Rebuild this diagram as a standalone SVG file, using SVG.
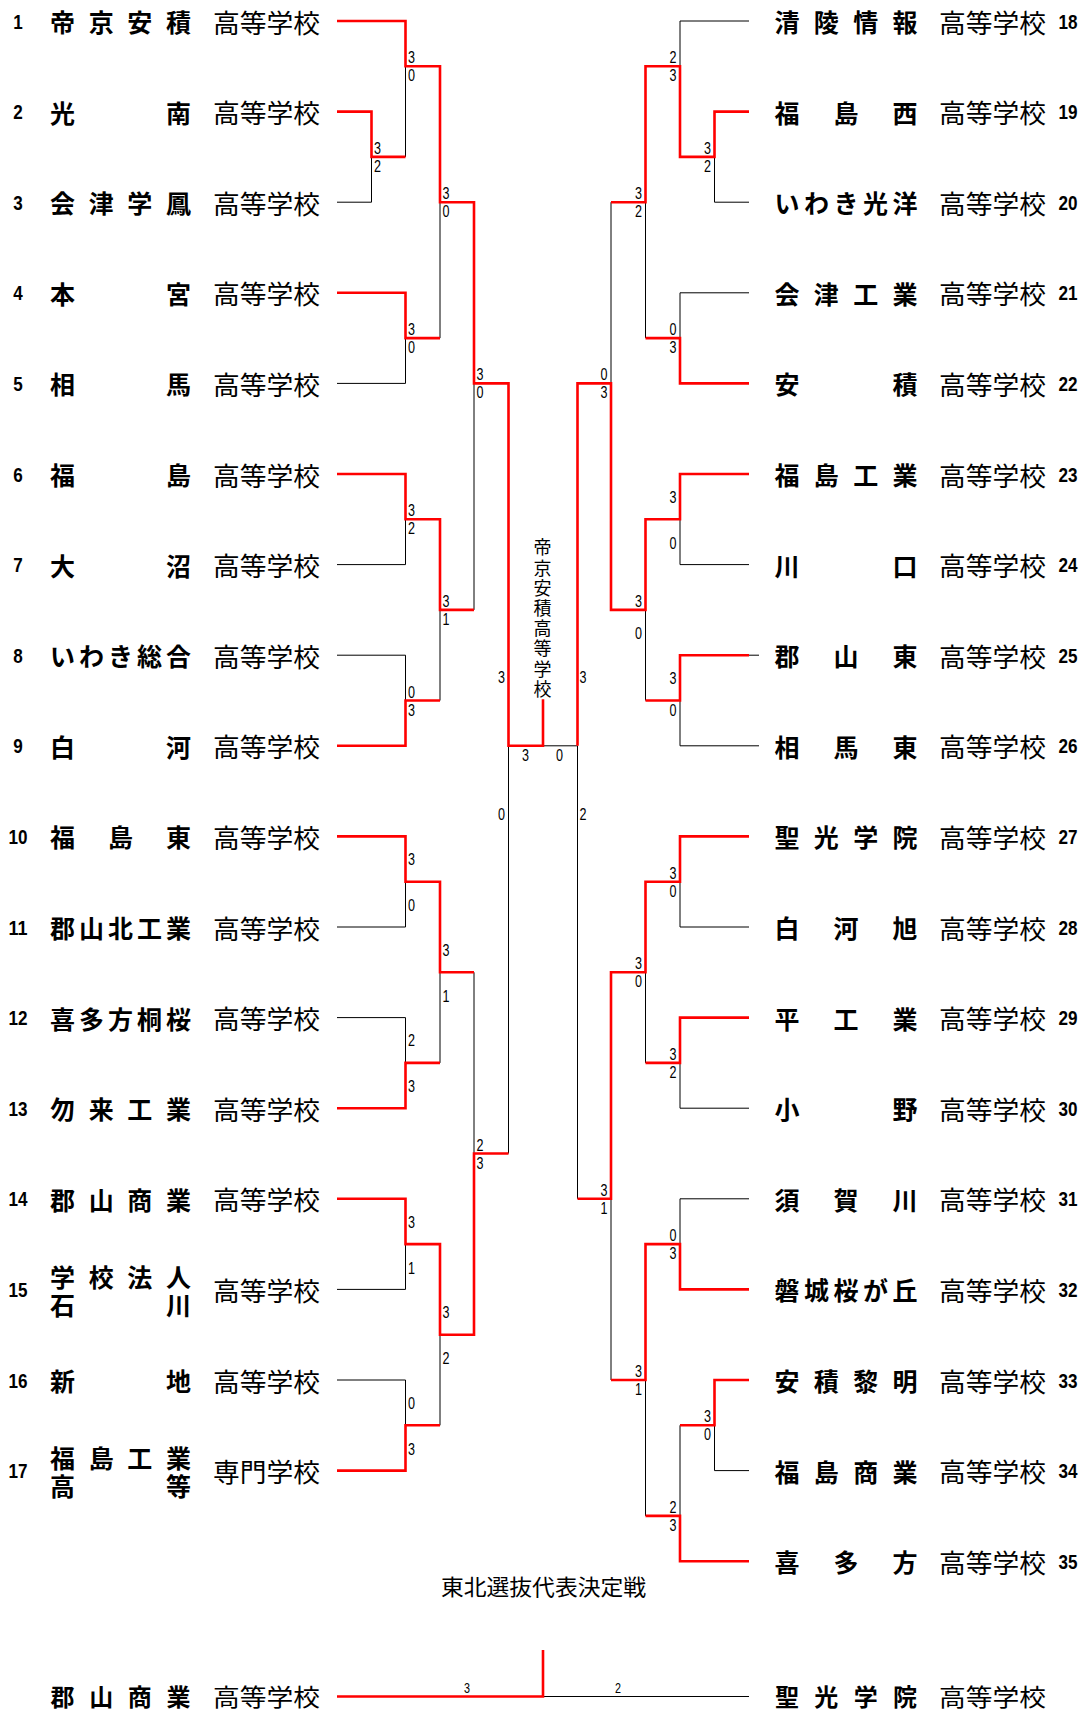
<svg xmlns="http://www.w3.org/2000/svg" width="1086" height="1711" viewBox="0 0 1086 1711">
<style>
.k{fill:none;stroke:#000;stroke-width:1}
.r{fill:none;stroke:#f00;stroke-width:2.6}
.num{font-family:"Liberation Sans",Arial,sans-serif;font-weight:bold;font-size:21px;text-anchor:middle;fill:#000}
.nm{font-family:"Noto Sans CJK JP","Noto Sans CJK SC",sans-serif;font-weight:bold;font-size:25px;text-anchor:middle;dominant-baseline:central;fill:#000}
.hs{font-family:"Noto Sans CJK JP","Noto Sans CJK SC",sans-serif;font-size:26px;dominant-baseline:central;fill:#000}
.bt{font-size:24px}
.sc{font-family:"Liberation Sans",Arial,sans-serif;font-size:17px;fill:#000}
.e{text-anchor:end}
.m{text-anchor:middle}
.sm{font-size:14px}
.vt{font-family:"Noto Sans CJK JP","Noto Sans CJK SC",sans-serif;font-size:18px;writing-mode:vertical-rl;letter-spacing:2.2px;fill:#000}
.ttl{font-family:"Noto Sans CJK JP","Noto Sans CJK SC",sans-serif;font-size:22px;text-anchor:middle;dominant-baseline:central;fill:#000}
</style>
<rect width="1086" height="1711" fill="#fff"/>

<g id="connectors">
<path class="k" d="M337,202.2H371.5V156.9 M405.5,66.3V156.9 M337,383.4H405.5V338.1 M440,202.2V338.1 M337,564.6H405.5V519.3 M337,655.2H405.5V700.5 M440,609.9V700.5 M474,383.4V609.9 M337,927H405.5V881.7 M337,1017.6H405.5V1062.9 M440,972.3V1062.9 M337,1289.4H405.5V1244.1 M337,1380H405.5V1425.3 M440,1334.7V1425.3 M474,972.3V1153.5 M508.5,745.8V1153.5 M543,745.8H577.5"/>
<path class="k" d="M749,21H680V66.3 M749,202.2H714.5V156.9 M749,292.8H680V338.1 M645.5,202.2V338.1 M611,202.2V383.4 M749,564.6H680V519.3 M759,655.2H749 M759,745.8H680V700.5 M645.5,609.9V700.5 M577.5,745.8V1198.8 M749,927H680V881.7 M749,1108.2H680V1062.9 M645.5,972.3V1062.9 M749,1198.8H680V1244.1 M611,1198.8V1380 M749,1470.6H714.5V1425.3 M680,1425.3V1515.9 M645.5,1380V1515.9 M543,1696.5H749"/>
<path class="r" d="M337,21H405.5V66.3H440V202.2H474V383.4H508.5V745.8H543V699.3"/>
<path class="r" d="M337,111.6H371.5V156.9H405.5"/>
<path class="r" d="M337,292.8H405.5V338.1H440"/>
<path class="r" d="M337,474H405.5V519.3H440V609.9H474"/>
<path class="r" d="M337,745.8H405.5V700.5H440"/>
<path class="r" d="M337,836.4H405.5V881.7H440V972.3H474"/>
<path class="r" d="M337,1108.2H405.5V1062.9H440"/>
<path class="r" d="M337,1198.8H405.5V1244.1H440V1334.7H474V1153.5H508.5"/>
<path class="r" d="M337,1470.6H405.5V1425.3H440"/>
<path class="r" d="M749,111.6H714.5V156.9H680V66.3H645.5V202.2H611"/>
<path class="r" d="M749,383.4H680V338.1H645.5"/>
<path class="r" d="M749,474H680V519.3H645.5V609.9H611V383.4H577.5V745.8"/>
<path class="r" d="M749,655.2H680V700.5H645.5"/>
<path class="r" d="M749,836.4H680V881.7H645.5V972.3H611V1198.8H577.5"/>
<path class="r" d="M749,1017.6H680V1062.9H645.5"/>
<path class="r" d="M749,1289.4H680V1244.1H645.5V1380H611"/>
<path class="r" d="M749,1380H714.5V1425.3H680"/>
<path class="r" d="M749,1561.2H680V1515.9H645.5"/>
<path class="r" d="M337,1696.5H543V1650"/>
</g>

<g id="scores">
<text class="sc" x="408" y="63.3" textLength="7" lengthAdjust="spacingAndGlyphs">3</text>
<text class="sc" x="408" y="81.3" textLength="7" lengthAdjust="spacingAndGlyphs">0</text>
<text class="sc" x="374" y="153.9" textLength="7" lengthAdjust="spacingAndGlyphs">3</text>
<text class="sc" x="374" y="171.9" textLength="7" lengthAdjust="spacingAndGlyphs">2</text>
<text class="sc" x="442.5" y="199.2" textLength="7" lengthAdjust="spacingAndGlyphs">3</text>
<text class="sc" x="442.5" y="217.2" textLength="7" lengthAdjust="spacingAndGlyphs">0</text>
<text class="sc" x="408" y="335.1" textLength="7" lengthAdjust="spacingAndGlyphs">3</text>
<text class="sc" x="408" y="353.1" textLength="7" lengthAdjust="spacingAndGlyphs">0</text>
<text class="sc" x="476.5" y="380.4" textLength="7" lengthAdjust="spacingAndGlyphs">3</text>
<text class="sc" x="476.5" y="398.4" textLength="7" lengthAdjust="spacingAndGlyphs">0</text>
<text class="sc" x="408" y="516.3" textLength="7" lengthAdjust="spacingAndGlyphs">3</text>
<text class="sc" x="408" y="534.3" textLength="7" lengthAdjust="spacingAndGlyphs">2</text>
<text class="sc" x="442.5" y="606.9" textLength="7" lengthAdjust="spacingAndGlyphs">3</text>
<text class="sc" x="442.5" y="624.9" textLength="7" lengthAdjust="spacingAndGlyphs">1</text>
<text class="sc" x="408" y="697.5" textLength="7" lengthAdjust="spacingAndGlyphs">0</text>
<text class="sc" x="408" y="715.5" textLength="7" lengthAdjust="spacingAndGlyphs">3</text>
<text class="sc" x="408" y="865.2" textLength="7" lengthAdjust="spacingAndGlyphs">3</text>
<text class="sc" x="408" y="911.2" textLength="7" lengthAdjust="spacingAndGlyphs">0</text>
<text class="sc" x="442.5" y="955.8" textLength="7" lengthAdjust="spacingAndGlyphs">3</text>
<text class="sc" x="442.5" y="1001.8" textLength="7" lengthAdjust="spacingAndGlyphs">1</text>
<text class="sc" x="408" y="1046.4" textLength="7" lengthAdjust="spacingAndGlyphs">2</text>
<text class="sc" x="408" y="1092.4" textLength="7" lengthAdjust="spacingAndGlyphs">3</text>
<text class="sc" x="476.5" y="1150.5" textLength="7" lengthAdjust="spacingAndGlyphs">2</text>
<text class="sc" x="476.5" y="1168.5" textLength="7" lengthAdjust="spacingAndGlyphs">3</text>
<text class="sc" x="408" y="1227.6" textLength="7" lengthAdjust="spacingAndGlyphs">3</text>
<text class="sc" x="408" y="1273.6" textLength="7" lengthAdjust="spacingAndGlyphs">1</text>
<text class="sc" x="442.5" y="1318.2" textLength="7" lengthAdjust="spacingAndGlyphs">3</text>
<text class="sc" x="442.5" y="1364.2" textLength="7" lengthAdjust="spacingAndGlyphs">2</text>
<text class="sc" x="408" y="1408.8" textLength="7" lengthAdjust="spacingAndGlyphs">0</text>
<text class="sc" x="408" y="1454.8" textLength="7" lengthAdjust="spacingAndGlyphs">3</text>

<text class="sc e" x="676.5" y="63.3" textLength="7" lengthAdjust="spacingAndGlyphs">2</text>
<text class="sc e" x="676.5" y="81.3" textLength="7" lengthAdjust="spacingAndGlyphs">3</text>
<text class="sc e" x="711" y="153.9" textLength="7" lengthAdjust="spacingAndGlyphs">3</text>
<text class="sc e" x="711" y="171.9" textLength="7" lengthAdjust="spacingAndGlyphs">2</text>
<text class="sc e" x="642" y="199.2" textLength="7" lengthAdjust="spacingAndGlyphs">3</text>
<text class="sc e" x="642" y="217.2" textLength="7" lengthAdjust="spacingAndGlyphs">2</text>
<text class="sc e" x="676.5" y="335.1" textLength="7" lengthAdjust="spacingAndGlyphs">0</text>
<text class="sc e" x="676.5" y="353.1" textLength="7" lengthAdjust="spacingAndGlyphs">3</text>
<text class="sc e" x="607.5" y="380.4" textLength="7" lengthAdjust="spacingAndGlyphs">0</text>
<text class="sc e" x="607.5" y="398.4" textLength="7" lengthAdjust="spacingAndGlyphs">3</text>
<text class="sc e" x="676.5" y="502.8" textLength="7" lengthAdjust="spacingAndGlyphs">3</text>
<text class="sc e" x="676.5" y="548.8" textLength="7" lengthAdjust="spacingAndGlyphs">0</text>
<text class="sc e" x="642" y="606.9" textLength="7" lengthAdjust="spacingAndGlyphs">3</text>
<text class="sc e" x="642" y="639.4" textLength="7" lengthAdjust="spacingAndGlyphs">0</text>
<text class="sc e" x="676.5" y="684" textLength="7" lengthAdjust="spacingAndGlyphs">3</text>
<text class="sc e" x="676.5" y="715.5" textLength="7" lengthAdjust="spacingAndGlyphs">0</text>
<text class="sc e" x="676.5" y="878.7" textLength="7" lengthAdjust="spacingAndGlyphs">3</text>
<text class="sc e" x="676.5" y="896.7" textLength="7" lengthAdjust="spacingAndGlyphs">0</text>
<text class="sc e" x="642" y="969.3" textLength="7" lengthAdjust="spacingAndGlyphs">3</text>
<text class="sc e" x="642" y="987.3" textLength="7" lengthAdjust="spacingAndGlyphs">0</text>
<text class="sc e" x="676.5" y="1059.9" textLength="7" lengthAdjust="spacingAndGlyphs">3</text>
<text class="sc e" x="676.5" y="1077.9" textLength="7" lengthAdjust="spacingAndGlyphs">2</text>
<text class="sc e" x="607.5" y="1195.8" textLength="7" lengthAdjust="spacingAndGlyphs">3</text>
<text class="sc e" x="607.5" y="1213.8" textLength="7" lengthAdjust="spacingAndGlyphs">1</text>
<text class="sc e" x="676.5" y="1241.1" textLength="7" lengthAdjust="spacingAndGlyphs">0</text>
<text class="sc e" x="676.5" y="1259.1" textLength="7" lengthAdjust="spacingAndGlyphs">3</text>
<text class="sc e" x="642" y="1377" textLength="7" lengthAdjust="spacingAndGlyphs">3</text>
<text class="sc e" x="642" y="1395" textLength="7" lengthAdjust="spacingAndGlyphs">1</text>
<text class="sc e" x="711" y="1422.3" textLength="7" lengthAdjust="spacingAndGlyphs">3</text>
<text class="sc e" x="711" y="1440.3" textLength="7" lengthAdjust="spacingAndGlyphs">0</text>
<text class="sc e" x="676.5" y="1512.9" textLength="7" lengthAdjust="spacingAndGlyphs">2</text>
<text class="sc e" x="676.5" y="1530.9" textLength="7" lengthAdjust="spacingAndGlyphs">3</text>

<text class="sc e" x="505" y="683" textLength="7" lengthAdjust="spacingAndGlyphs">3</text>
<text class="sc e" x="505" y="820" textLength="7" lengthAdjust="spacingAndGlyphs">0</text>
<text class="sc" x="579.5" y="683" textLength="7" lengthAdjust="spacingAndGlyphs">3</text>
<text class="sc" x="579.5" y="820" textLength="7" lengthAdjust="spacingAndGlyphs">2</text>
<text class="sc m" x="525.5" y="761" textLength="7" lengthAdjust="spacingAndGlyphs">3</text>
<text class="sc m" x="559.5" y="761" textLength="7" lengthAdjust="spacingAndGlyphs">0</text>
<text class="sc m sm" x="467" y="1692.5" textLength="6" lengthAdjust="spacingAndGlyphs">3</text>
<text class="sc m sm" x="618" y="1692.5" textLength="6" lengthAdjust="spacingAndGlyphs">2</text>
</g>

<g id="champion">
<text class="vt" x="542.5" y="538.5">帝京安積高等学校</text>
</g>

<g id="team-1"><text class="num" x="18" y="28.6" textLength="9.5" lengthAdjust="spacingAndGlyphs">1</text><text class="nm" x="62.5 101.2 139.8 178.5" y="21">帝京安積</text><text class="hs" x="213" y="21" textLength="107" lengthAdjust="spacingAndGlyphs">高等学校</text></g>
<g id="team-2"><text class="num" x="18" y="119.2" textLength="9.5" lengthAdjust="spacingAndGlyphs">2</text><text class="nm" x="62.5 178.5" y="111.6">光南</text><text class="hs" x="213" y="111.6" textLength="107" lengthAdjust="spacingAndGlyphs">高等学校</text></g>
<g id="team-3"><text class="num" x="18" y="209.8" textLength="9.5" lengthAdjust="spacingAndGlyphs">3</text><text class="nm" x="62.5 101.2 139.8 178.5" y="202.2">会津学鳳</text><text class="hs" x="213" y="202.2" textLength="107" lengthAdjust="spacingAndGlyphs">高等学校</text></g>
<g id="team-4"><text class="num" x="18" y="300.4" textLength="9.5" lengthAdjust="spacingAndGlyphs">4</text><text class="nm" x="62.5 178.5" y="292.8">本宮</text><text class="hs" x="213" y="292.8" textLength="107" lengthAdjust="spacingAndGlyphs">高等学校</text></g>
<g id="team-5"><text class="num" x="18" y="391" textLength="9.5" lengthAdjust="spacingAndGlyphs">5</text><text class="nm" x="62.5 178.5" y="383.4">相馬</text><text class="hs" x="213" y="383.4" textLength="107" lengthAdjust="spacingAndGlyphs">高等学校</text></g>
<g id="team-6"><text class="num" x="18" y="481.6" textLength="9.5" lengthAdjust="spacingAndGlyphs">6</text><text class="nm" x="62.5 178.5" y="474">福島</text><text class="hs" x="213" y="474" textLength="107" lengthAdjust="spacingAndGlyphs">高等学校</text></g>
<g id="team-7"><text class="num" x="18" y="572.2" textLength="9.5" lengthAdjust="spacingAndGlyphs">7</text><text class="nm" x="62.5 178.5" y="564.6">大沼</text><text class="hs" x="213" y="564.6" textLength="107" lengthAdjust="spacingAndGlyphs">高等学校</text></g>
<g id="team-8"><text class="num" x="18" y="662.8" textLength="9.5" lengthAdjust="spacingAndGlyphs">8</text><text class="nm" x="62.5 91.5 120.5 149.5 178.5" y="655.2">いわき総合</text><text class="hs" x="213" y="655.2" textLength="107" lengthAdjust="spacingAndGlyphs">高等学校</text></g>
<g id="team-9"><text class="num" x="18" y="753.4" textLength="9.5" lengthAdjust="spacingAndGlyphs">9</text><text class="nm" x="62.5 178.5" y="745.8">白河</text><text class="hs" x="213" y="745.8" textLength="107" lengthAdjust="spacingAndGlyphs">高等学校</text></g>
<g id="team-10"><text class="num" x="18" y="844" textLength="19" lengthAdjust="spacingAndGlyphs">10</text><text class="nm" x="62.5 120.5 178.5" y="836.4">福島東</text><text class="hs" x="213" y="836.4" textLength="107" lengthAdjust="spacingAndGlyphs">高等学校</text></g>
<g id="team-11"><text class="num" x="18" y="934.6" textLength="19" lengthAdjust="spacingAndGlyphs">11</text><text class="nm" x="62.5 91.5 120.5 149.5 178.5" y="927">郡山北工業</text><text class="hs" x="213" y="927" textLength="107" lengthAdjust="spacingAndGlyphs">高等学校</text></g>
<g id="team-12"><text class="num" x="18" y="1025.2" textLength="19" lengthAdjust="spacingAndGlyphs">12</text><text class="nm" x="62.5 91.5 120.5 149.5 178.5" y="1017.6">喜多方桐桜</text><text class="hs" x="213" y="1017.6" textLength="107" lengthAdjust="spacingAndGlyphs">高等学校</text></g>
<g id="team-13"><text class="num" x="18" y="1115.8" textLength="19" lengthAdjust="spacingAndGlyphs">13</text><text class="nm" x="62.5 101.2 139.8 178.5" y="1108.2">勿来工業</text><text class="hs" x="213" y="1108.2" textLength="107" lengthAdjust="spacingAndGlyphs">高等学校</text></g>
<g id="team-14"><text class="num" x="18" y="1206.4" textLength="19" lengthAdjust="spacingAndGlyphs">14</text><text class="nm" x="62.5 101.2 139.8 178.5" y="1198.8">郡山商業</text><text class="hs" x="213" y="1198.8" textLength="107" lengthAdjust="spacingAndGlyphs">高等学校</text></g>
<g id="team-15"><text class="num" x="18" y="1297" textLength="19" lengthAdjust="spacingAndGlyphs">15</text><text class="nm"><tspan x="62.5 101.2 139.8 178.5" y="1276">学校法人</tspan><tspan x="62.5 178.5" y="1304">石川</tspan></text><text class="hs" x="213" y="1289.4" textLength="107" lengthAdjust="spacingAndGlyphs">高等学校</text></g>
<g id="team-16"><text class="num" x="18" y="1387.6" textLength="19" lengthAdjust="spacingAndGlyphs">16</text><text class="nm" x="62.5 178.5" y="1380">新地</text><text class="hs" x="213" y="1380" textLength="107" lengthAdjust="spacingAndGlyphs">高等学校</text></g>
<g id="team-17"><text class="num" x="18" y="1478.2" textLength="19" lengthAdjust="spacingAndGlyphs">17</text><text class="nm"><tspan x="62.5 101.2 139.8 178.5" y="1456.5">福島工業</tspan><tspan x="62.5 178.5" y="1485">高等</tspan></text><text class="hs" x="213" y="1470.6" textLength="107" lengthAdjust="spacingAndGlyphs">専門学校</text></g>

<g id="team-18"><text class="nm" x="787 826.3 865.7 905" y="21">清陵情報</text><text class="hs" x="939" y="21" textLength="107" lengthAdjust="spacingAndGlyphs">高等学校</text><text class="num" x="1068" y="28.6" textLength="19" lengthAdjust="spacingAndGlyphs">18</text></g>
<g id="team-19"><text class="nm" x="787 846 905" y="111.6">福島西</text><text class="hs" x="939" y="111.6" textLength="107" lengthAdjust="spacingAndGlyphs">高等学校</text><text class="num" x="1068" y="119.2" textLength="19" lengthAdjust="spacingAndGlyphs">19</text></g>
<g id="team-20"><text class="nm" x="787 816.5 846 875.5 905" y="202.2">いわき光洋</text><text class="hs" x="939" y="202.2" textLength="107" lengthAdjust="spacingAndGlyphs">高等学校</text><text class="num" x="1068" y="209.8" textLength="19" lengthAdjust="spacingAndGlyphs">20</text></g>
<g id="team-21"><text class="nm" x="787 826.3 865.7 905" y="292.8">会津工業</text><text class="hs" x="939" y="292.8" textLength="107" lengthAdjust="spacingAndGlyphs">高等学校</text><text class="num" x="1068" y="300.4" textLength="19" lengthAdjust="spacingAndGlyphs">21</text></g>
<g id="team-22"><text class="nm" x="787 905" y="383.4">安積</text><text class="hs" x="939" y="383.4" textLength="107" lengthAdjust="spacingAndGlyphs">高等学校</text><text class="num" x="1068" y="391" textLength="19" lengthAdjust="spacingAndGlyphs">22</text></g>
<g id="team-23"><text class="nm" x="787 826.3 865.7 905" y="474">福島工業</text><text class="hs" x="939" y="474" textLength="107" lengthAdjust="spacingAndGlyphs">高等学校</text><text class="num" x="1068" y="481.6" textLength="19" lengthAdjust="spacingAndGlyphs">23</text></g>
<g id="team-24"><text class="nm" x="787 905" y="564.6">川口</text><text class="hs" x="939" y="564.6" textLength="107" lengthAdjust="spacingAndGlyphs">高等学校</text><text class="num" x="1068" y="572.2" textLength="19" lengthAdjust="spacingAndGlyphs">24</text></g>
<g id="team-25"><text class="nm" x="787 846 905" y="655.2">郡山東</text><text class="hs" x="939" y="655.2" textLength="107" lengthAdjust="spacingAndGlyphs">高等学校</text><text class="num" x="1068" y="662.8" textLength="19" lengthAdjust="spacingAndGlyphs">25</text></g>
<g id="team-26"><text class="nm" x="787 846 905" y="745.8">相馬東</text><text class="hs" x="939" y="745.8" textLength="107" lengthAdjust="spacingAndGlyphs">高等学校</text><text class="num" x="1068" y="753.4" textLength="19" lengthAdjust="spacingAndGlyphs">26</text></g>
<g id="team-27"><text class="nm" x="787 826.3 865.7 905" y="836.4">聖光学院</text><text class="hs" x="939" y="836.4" textLength="107" lengthAdjust="spacingAndGlyphs">高等学校</text><text class="num" x="1068" y="844" textLength="19" lengthAdjust="spacingAndGlyphs">27</text></g>
<g id="team-28"><text class="nm" x="787 846 905" y="927">白河旭</text><text class="hs" x="939" y="927" textLength="107" lengthAdjust="spacingAndGlyphs">高等学校</text><text class="num" x="1068" y="934.6" textLength="19" lengthAdjust="spacingAndGlyphs">28</text></g>
<g id="team-29"><text class="nm" x="787 846 905" y="1017.6">平工業</text><text class="hs" x="939" y="1017.6" textLength="107" lengthAdjust="spacingAndGlyphs">高等学校</text><text class="num" x="1068" y="1025.2" textLength="19" lengthAdjust="spacingAndGlyphs">29</text></g>
<g id="team-30"><text class="nm" x="787 905" y="1108.2">小野</text><text class="hs" x="939" y="1108.2" textLength="107" lengthAdjust="spacingAndGlyphs">高等学校</text><text class="num" x="1068" y="1115.8" textLength="19" lengthAdjust="spacingAndGlyphs">30</text></g>
<g id="team-31"><text class="nm" x="787 846 905" y="1198.8">須賀川</text><text class="hs" x="939" y="1198.8" textLength="107" lengthAdjust="spacingAndGlyphs">高等学校</text><text class="num" x="1068" y="1206.4" textLength="19" lengthAdjust="spacingAndGlyphs">31</text></g>
<g id="team-32"><text class="nm" x="787 816.5 846 875.5 905" y="1289.4">磐城桜が丘</text><text class="hs" x="939" y="1289.4" textLength="107" lengthAdjust="spacingAndGlyphs">高等学校</text><text class="num" x="1068" y="1297" textLength="19" lengthAdjust="spacingAndGlyphs">32</text></g>
<g id="team-33"><text class="nm" x="787 826.3 865.7 905" y="1380">安積黎明</text><text class="hs" x="939" y="1380" textLength="107" lengthAdjust="spacingAndGlyphs">高等学校</text><text class="num" x="1068" y="1387.6" textLength="19" lengthAdjust="spacingAndGlyphs">33</text></g>
<g id="team-34"><text class="nm" x="787 826.3 865.7 905" y="1470.6">福島商業</text><text class="hs" x="939" y="1470.6" textLength="107" lengthAdjust="spacingAndGlyphs">高等学校</text><text class="num" x="1068" y="1478.2" textLength="19" lengthAdjust="spacingAndGlyphs">34</text></g>
<g id="team-35"><text class="nm" x="787 846 905" y="1561.2">喜多方</text><text class="hs" x="939" y="1561.2" textLength="107" lengthAdjust="spacingAndGlyphs">高等学校</text><text class="num" x="1068" y="1568.8" textLength="19" lengthAdjust="spacingAndGlyphs">35</text></g>

<g id="title"><text class="ttl" x="543.5" y="1585" textLength="205" lengthAdjust="spacingAndGlyphs">東北選抜代表決定戦</text></g>
<g id="final-left"><text class="nm bt" x="62.5 101.2 139.8 178.5" y="1695">郡山商業</text><text class="hs bt" x="213" y="1695" textLength="107" lengthAdjust="spacingAndGlyphs">高等学校</text></g>
<g id="final-right"><text class="nm bt" x="787 826.3 865.7 905" y="1695">聖光学院</text><text class="hs bt" x="939" y="1695" textLength="107" lengthAdjust="spacingAndGlyphs">高等学校</text></g>
</svg>
